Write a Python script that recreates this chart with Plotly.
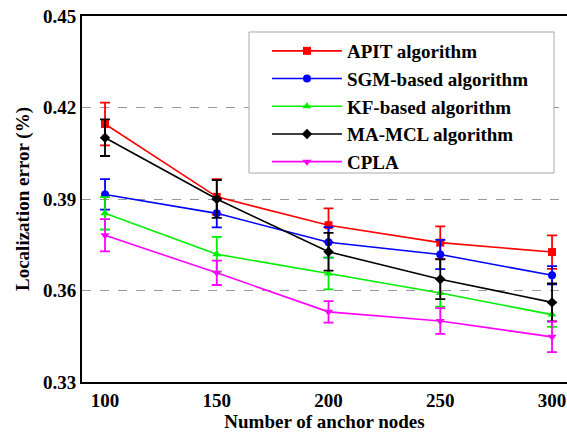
import plotly.graph_objects as go

nodes = [100, 150, 200, 250, 300]

names = ["APIT algorithm", "SGM-based algorithm", "KF-based algorithm", "MA-MCL algorithm", "CPLA"]

apit = [0.4146, 0.3907, 0.3814, 0.3757, 0.3726]
apit_err = [0.0070, 0.0058, 0.0055, 0.0053, 0.0055]

sgm = [0.3915, 0.3853, 0.3758, 0.3718, 0.3650]
sgm_err = [0.0050, 0.0046, 0.0050, 0.0048, 0.0030]

kf = [0.3853, 0.3719, 0.3656, 0.3592, 0.3521]
kf_err = [0.0053, 0.0057, 0.0052, 0.0045, 0.0040]

mamcl = [0.4101, 0.3900, 0.3727, 0.3637, 0.3561]
mamcl_err = [0.0060, 0.0062, 0.0062, 0.0065, 0.0062]

cpla = [0.3781, 0.3658, 0.3530, 0.3500, 0.3448]
cpla_err = [0.0053, 0.0040, 0.0035, 0.0042, 0.0050]

series = [apit, sgm, kf, mamcl, cpla]
errors = [apit_err, sgm_err, kf_err, mamcl_err, cpla_err]
colors = ["#ff0000", "#0000ff", "#00ee00", "#000000", "#ff00ff"]
symbols = ["square", "circle", "triangle-up", "diamond", "triangle-down"]

y_ticks = [0.33, 0.36, 0.39, 0.42, 0.45]

fig = go.Figure()
for name, vals, err, col, sym in zip(names, series, errors, colors, symbols):
    fig.add_trace(go.Scatter(
        x=nodes, y=vals, name=name, mode="lines+markers",
        line=dict(color=col, width=1.6),
        marker=dict(symbol=sym, size=8, color=col),
        error_y=dict(type="data", array=err, visible=True, color=col, thickness=1.8, width=5),
    ))

font_family = "Liberation Serif"

# legend frame drawn as a shape (covers grid lines)
fig.add_shape(type="rect", xref="paper", yref="paper",
              x0=0.3443, x1=0.9732, y0=0.5710, y1=0.9563,
              line=dict(color="#a8a8a8", width=1), fillcolor="white", layer="above")

fig.update_layout(
    width=567, height=433,
    margin=dict(l=82, r=0, t=16, b=51),
    paper_bgcolor="white", plot_bgcolor="white",
    font=dict(family=font_family, color="black"),
    showlegend=True,
    legend=dict(
        x=0.3814, y=0.9563, xanchor="left", yanchor="top",
        bgcolor="rgba(0,0,0,0)", borderwidth=0,
        font=dict(family=font_family, size=19, color="black", weight="bold"),
        itemwidth=70, tracegroupgap=0,
    ),
    xaxis=dict(
        range=[89.7, 306.7],
        tickvals=nodes, ticktext=[str(n) for n in nodes],
        showgrid=False, zeroline=False,
        showline=True, linecolor="black", linewidth=2, mirror=True,
        ticks="", tickfont=dict(family=font_family, size=19, weight="bold"),
        title=dict(text="Number of anchor nodes", font=dict(family=font_family, size=19, weight="bold"), standoff=4),
    ),
    yaxis=dict(
        range=[0.33, 0.45],
        tickvals=y_ticks, ticktext=["%.2f" % t for t in y_ticks],
        showgrid=True, gridcolor="#999999", griddash="dash", gridwidth=1.2,
        zeroline=False,
        showline=True, linecolor="black", linewidth=2, mirror=False,
        ticks="", tickfont=dict(family=font_family, size=19, weight="bold"),
        title=dict(text="Localization error (%)", font=dict(family=font_family, size=19, weight="bold"), standoff=8),
    ),
)

fig.write_html("out.html")
